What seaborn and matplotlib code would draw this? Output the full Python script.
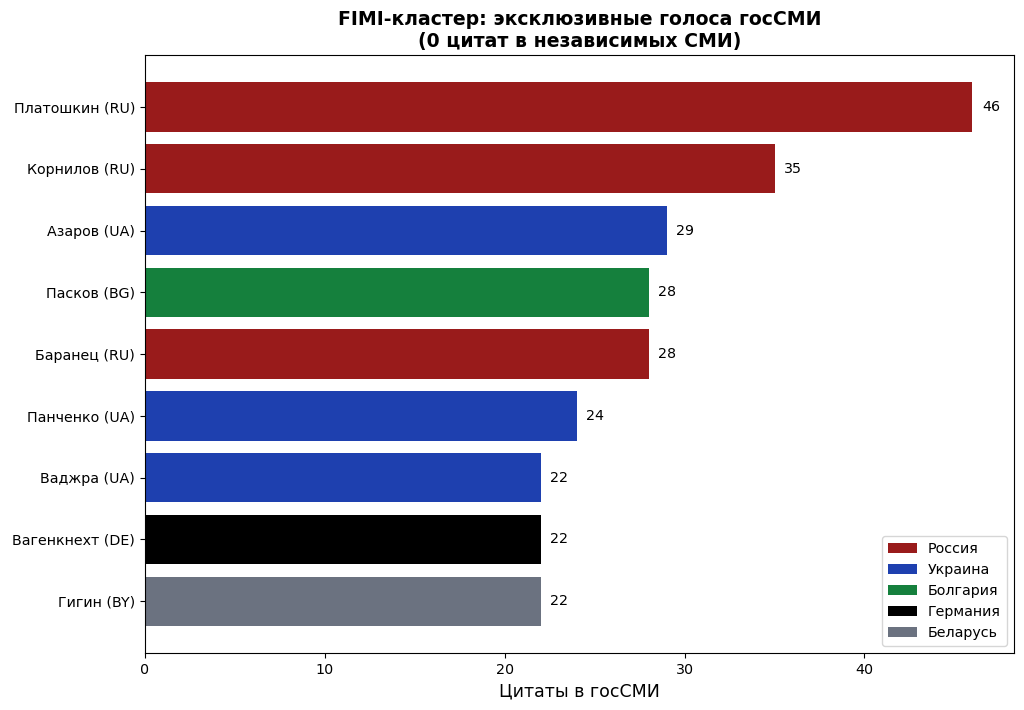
import pandas as pd
import matplotlib.pyplot as plt
import seaborn as sns

# Data
names = ['Платошкин (RU)', 'Корнилов (RU)', 'Азаров (UA)', 'Пасков (BG)', 'Баранец (RU)',
         'Панченко (UA)', 'Ваджра (UA)', 'Вагенкнехт (DE)', 'Гигин (BY)']
quotes = [46, 35, 29, 28, 28, 24, 22, 22, 22]
countries = ['Россия', 'Россия', 'Украина', 'Болгария', 'Россия',
             'Украина', 'Украина', 'Германия', 'Беларусь']
country_order = ['Россия', 'Украина', 'Болгария', 'Германия', 'Беларусь']
country_colors = ['#991B1B', '#1E40AF', '#15803D', '#000000', '#6B7280']

df = pd.DataFrame({'name': names, 'quotes': quotes, 'country': countries})

plt.rcParams['font.family'] = ['DejaVu Sans']
plt.rcParams['xtick.labelsize'] = 10.3
plt.rcParams['ytick.labelsize'] = 10.3
fig, ax = plt.subplots(figsize=(10.24, 7.1), dpi=100)

sns.barplot(data=df, x='quotes', y='name', hue='country', hue_order=country_order,
            palette=dict(zip(country_order, country_colors)), dodge=False,
            width=0.8, orient='h', saturation=1, ax=ax)

for c in ax.containers:
    ax.bar_label(c, padding=7, fontsize=10.3)

ax.set_ylim(len(names) - 1 + 0.84, -0.84)
ax.set_xlim(0, max(quotes) * 1.05)
ax.set_ylabel('')
ax.set_xlabel('Цитаты в госСМИ', fontsize=12.5)
ax.set_title('FIMI-кластер: эксклюзивные голоса госСМИ\n(0 цитат в независимых СМИ)',
             fontsize=13.6, fontweight='bold')
ax.legend(loc='lower right', fontsize=10.3)

plt.subplots_adjust(left=0.1416, right=0.990, top=0.9225, bottom=0.080)
plt.savefig('out.png', dpi=100)
